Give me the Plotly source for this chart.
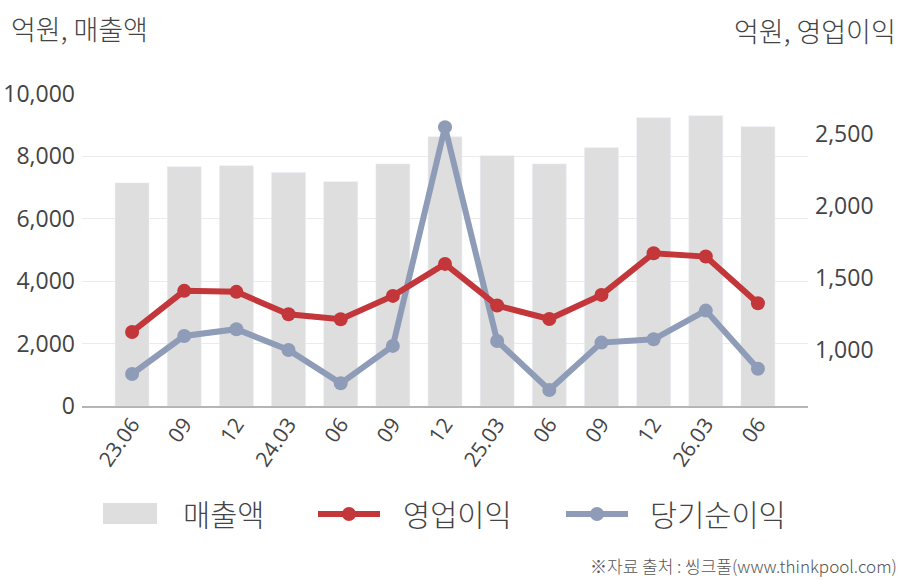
import plotly.graph_objects as go

# 분기 라벨
quarters = ["23.06", "09", "12", "24.03", "06", "09", "12",
            "25.03", "06", "09", "12", "26.03", "06"]

# 억원
sales = [7150, 7670, 7700, 7480, 7190, 7760, 8630,
         8020, 7760, 8280, 9240, 9300, 8950]
op_profit = [1125, 1410, 1403, 1248, 1213, 1375, 1597,
             1308, 1215, 1382, 1671, 1648, 1324]
net_income = [833, 1097, 1144, 1000, 768, 1028, 2546,
              1062, 722, 1051, 1074, 1273, 870]

C_BAR = "#DEDEDE"
C_OP = "#C3363A"
C_NET = "#8F9CB8"
C_TXT = "#444444"
FONT = "Noto Sans CJK KR"
NUM_FONT = "Open Sans"
WT = 300

xpos = list(range(len(quarters)))

# 플롯 영역 (픽셀)
L, R, T, B = 82, 100, 94, 174
W, H = 908, 580
PW, PH = W - L - R, H - T - B


def px_x(px):
    return (px - L) / PW


def px_y(py):
    return (H - B - py) / PH


fig = go.Figure()

fig.add_trace(go.Bar(
    x=xpos, y=sales, name="매출액",
    marker_color=C_BAR, width=0.65,
    showlegend=False, hoverinfo="y"
))

fig.add_trace(go.Scatter(
    x=xpos, y=net_income, name="당기순이익", yaxis="y2",
    mode="lines+markers",
    line=dict(color=C_NET, width=6),
    marker=dict(color=C_NET, size=14),
    showlegend=False
))

fig.add_trace(go.Scatter(
    x=xpos, y=op_profit, name="영업이익", yaxis="y2",
    mode="lines+markers",
    line=dict(color=C_OP, width=6),
    marker=dict(color=C_OP, size=14),
    showlegend=False
))

# 범례 (직접 그림)
shapes = [
    dict(type="rect", xref="paper", yref="paper",
         x0=px_x(103), x1=px_x(157), y0=px_y(524), y1=px_y(503),
         fillcolor=C_BAR, line=dict(width=0)),
    dict(type="line", xref="paper", yref="paper",
         x0=px_x(318), x1=px_x(380), y0=px_y(514), y1=px_y(514),
         line=dict(color=C_OP, width=6)),
    dict(type="circle", xref="paper", yref="paper",
         x0=px_x(342), x1=px_x(356), y0=px_y(521), y1=px_y(507),
         fillcolor=C_OP, line=dict(width=0)),
    dict(type="line", xref="paper", yref="paper",
         x0=px_x(566), x1=px_x(628), y0=px_y(514), y1=px_y(514),
         line=dict(color=C_NET, width=6)),
    dict(type="circle", xref="paper", yref="paper",
         x0=px_x(590), x1=px_x(604), y0=px_y(521), y1=px_y(507),
         fillcolor=C_NET, line=dict(width=0)),
]


def label(text, x, y, anchor, size, color=C_TXT):
    return dict(text=text, xref="paper", yref="paper",
                x=px_x(x), y=px_y(y), xanchor=anchor, yanchor="middle",
                showarrow=False, font=dict(size=size, color=color, weight=WT))


annotations = [
    label("억원, 매출액", 9, 28, "left", 27),
    label("억원, 영업이익", 898, 30, "right", 27),
    label("매출액", 181, 513, "left", 29.5),
    label("영업이익", 401, 513, "left", 29.5),
    label("당기순이익", 648, 513, "left", 29.5),
    label("※자료 출처 : 씽크풀(www.thinkpool.com)", 899, 565, "right", 17, "#555555"),
]

num_font = dict(family=NUM_FONT, size=23, color=C_TXT, weight=400)

fig.update_layout(
    width=W, height=H,
    margin=dict(l=L, r=R, t=T, b=B, autoexpand=False),
    paper_bgcolor="white", plot_bgcolor="white",
    font=dict(family=FONT, color=C_TXT, weight=WT),
    showlegend=False,
    bargap=0.35,
    shapes=shapes,
    annotations=annotations,
    xaxis=dict(
        range=[-0.96, 12.96],
        tickvals=xpos, ticktext=quarters,
        tickangle=-55,
        tickfont=dict(family=NUM_FONT, size=21, color=C_TXT, weight=400),
        showgrid=False, zeroline=False,
        showline=True, linecolor="#B5B5B5", linewidth=1.5,
        ticks="", fixedrange=True, ticklabelstandoff=-4,
    ),
    yaxis=dict(
        range=[0, 10000], dtick=2000, tickformat=",",
        tickfont=num_font,
        showgrid=True, gridcolor="#EBEBEB", gridwidth=1,
        zeroline=False, ticks="", ticklabelstandoff=6,
    ),
    yaxis2=dict(
        overlaying="y", side="right",
        range=[611, 2776], tickvals=[1000, 1500, 2000, 2500],
        tickformat=",", tickfont=num_font,
        showgrid=False, zeroline=False, ticks="", ticklabelstandoff=6,
    ),
)

fig.write_html("out.html", config={"displayModeBar": False},
               post_script="document.body.style.margin='0';")
